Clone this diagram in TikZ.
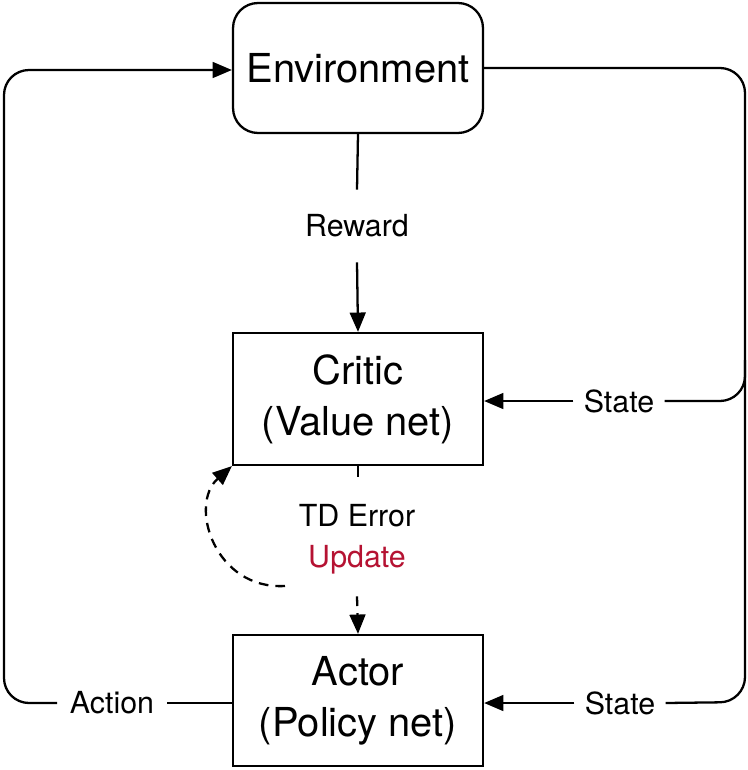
\documentclass[tikz,border=0pt]{standalone}
\usepackage{fontspec}
\setmainfont{TeX Gyre Heros}
\usetikzlibrary{arrows.meta}
\definecolor{upd}{RGB}{181,18,50}
\begin{document}
\begin{tikzpicture}[x=0.02cm,y=-0.02cm,
  box/.style={draw,line width=1.3pt,minimum width=5cm,align=center,inner sep=0pt,font=\fontsize{22.7}{29}\selectfont},
  lab/.style={inner sep=0pt,align=center,font=\fontsize{17.3}{23.5}\selectfont},
  ln/.style={line width=1.3pt},
  conn/.style={line width=1.3pt,-{Triangle[length=11pt,width=9pt]}},
  dconn/.style={conn,dash pattern=on 5.5pt off 4pt}]
\useasboundingbox (0,0) rectangle (747,770);
\node[box,rounded corners=0.5cm,minimum height=2.6cm] (env) at (358,68) {Environment};
\node[box,minimum height=2.64cm] (critic) at (358,399) {Critic\\(Value net)};
\node[box,minimum height=2.62cm] (actor) at (358,700.5) {Actor\\(Policy net)};
\node[lab,minimum height=1.44cm] (reward) at (357,226) {Reward};
\node[lab,minimum height=2.28cm] (td) at (357,539) {TD Error\\\textcolor{upd}{Update}};
\node[lab,inner xsep=0.2cm] (state1) at (619,401) {State};
\node[lab,inner xsep=0.2cm] (state2) at (620,703) {State};
\node[lab,inner xsep=0.25cm] (action) at (112,703) {Action};
\coordinate (rt) at (745,68);
\coordinate (rb) at (745,702);
\coordinate (rm) at (745,401);
\coordinate (rm0) at (745,360);
\coordinate (lb) at (4,702);
\coordinate (lt) at (4,70);
\coordinate (dstart) at (285,586);
% reward
\draw[ln] (env.south) -- (reward.north);
\draw[conn] (reward.south) -- (critic.north);
% td error
\draw[ln] (critic.south) -- +(0,11);
\draw[dconn] (td.south) -- (actor.north);
\draw[dconn] (dstart) .. controls (215,590) and (188,505) .. (critic.south west);
% right side
\draw[ln,rounded corners=0.5cm] (env.east |- rt) -- (rt) -- (rb) -- (state2.east);
\draw[ln,rounded corners=0.5cm] (rm0) -- (rm) -- (state1.east);
\draw[conn] (state1.west) -- (critic.east |- state1);
\draw[conn] (state2.west) -- (actor.east |- state2);
% left side
\draw[ln] (actor.west |- action) -- (action.east);
\draw[conn,rounded corners=0.5cm] (action.west) -- (action.west -| lb) -- (lt) -- (env.west |- lt);
\end{tikzpicture}
\end{document}
